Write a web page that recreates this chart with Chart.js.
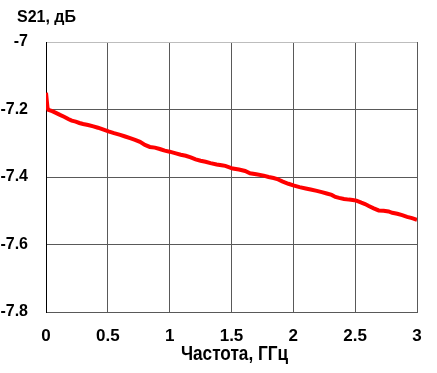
<!DOCTYPE html>
<html>
<head>
<meta charset="utf-8">
<script src="https://cdn.jsdelivr.net/npm/chart.js@4.4.1/dist/chart.umd.min.js"></script>
<style>
    html, body { margin: 0; padding: 0; background: #fff; }
    #wrap { width: 437px; height: 373px; }
</style>
</head>
<body>
<div id="wrap"><canvas id="myChart" width="437" height="373"></canvas></div>
<script>
// frequency, GHz
const freq = [0, 0.005, 0.012, 0.02, 0.05, 0.08, 0.113, 0.15, 0.18, 0.208, 0.24, 0.27, 0.30, 0.34,
    0.383, 0.42, 0.46, 0.505, 0.55, 0.60, 0.64, 0.68, 0.72, 0.76, 0.80, 0.84, 0.88, 0.92, 0.96, 1.00,
    1.05, 1.09, 1.13, 1.17, 1.21, 1.25, 1.29, 1.33, 1.38, 1.42, 1.45, 1.51, 1.56, 1.61, 1.65, 1.70,
    1.76, 1.80, 1.84, 1.87, 1.91, 1.96, 2.00, 2.05, 2.10, 2.14, 2.19, 2.23, 2.27, 2.31, 2.34, 2.37,
    2.41, 2.45, 2.48, 2.51, 2.55, 2.58, 2.61, 2.65, 2.69, 2.73, 2.77, 2.80, 2.84, 2.88, 2.92, 2.96, 3.00];
// S21, dB
const s21 = [-7.150, -7.150, -7.195, -7.201, -7.205, -7.210, -7.216, -7.222, -7.228, -7.233, -7.236, -7.240, -7.243, -7.246,
    -7.250, -7.254, -7.259, -7.265, -7.270, -7.275, -7.280, -7.285, -7.290, -7.296, -7.305, -7.311, -7.313, -7.317, -7.322, -7.325,
    -7.330, -7.334, -7.337, -7.342, -7.348, -7.352, -7.355, -7.359, -7.363, -7.365, -7.367, -7.375, -7.378, -7.382, -7.389, -7.392,
    -7.396, -7.400, -7.403, -7.406, -7.413, -7.420, -7.425, -7.430, -7.434, -7.437, -7.441, -7.445, -7.449, -7.453, -7.459, -7.462,
    -7.465, -7.467, -7.468, -7.470, -7.476, -7.480, -7.486, -7.493, -7.499, -7.500, -7.502, -7.506, -7.509, -7.513, -7.518, -7.522, -7.527];

const xTicks = [0, 0.5, 1, 1.5, 2, 2.5, 3];
const yTicks = [-7, -7.2, -7.4, -7.6, -7.8];

const FONT = "'Liberation Sans', Arial, sans-serif";

// axis titles drawn by hand so the x title can be squeezed like a narrow font
const titlesPlugin = {
    id: 'axisTitles',
    afterDraw(chart) {
        const c = chart.ctx;
        const area = chart.chartArea;
        c.save();
        c.fillStyle = '#000';
        c.textBaseline = 'middle';
        c.font = "bold 16px " + FONT;
        c.textAlign = 'left';
        c.fillText('S21, дБ', 17, 18);

        c.font = "bold 20px " + FONT;
        c.textAlign = 'center';
        c.translate((area.left + area.right) / 2 + 3, 354);
        c.scale(0.86, 1);
        c.fillText('Частота, ГГц', 0, 0);
        c.restore();
    }
};

document.addEventListener("DOMContentLoaded", function () {
    const ctx = document.getElementById('myChart');
    const points = freq.map((f, i) => ({ x: f, y: s21[i] }));

    new Chart(ctx, {
        type: 'line',
        data: {
            datasets: [{
                data: points,
                borderColor: '#ff0000',
                borderWidth: 4,
                pointRadius: 0,
                tension: 0,
                fill: false
            }]
        },
        options: {
            responsive: false,
            animation: false,
            layout: { padding: { top: 42, right: 20, left: 0, bottom: 0 } },
            plugins: { legend: { display: false }, tooltip: { enabled: false } },
            scales: {
                x: {
                    type: 'linear',
                    min: 0,
                    max: 3,
                    afterBuildTicks: (s) => { s.ticks = xTicks.map(v => ({ value: v })); },
                    afterFit: (s) => { s.height = 61; },
                    grid: { color: '#595959', lineWidth: 1, drawTicks: false },
                    border: { color: '#595959' },
                    ticks: {
                        color: '#000',
                        padding: 14,
                        font: { family: FONT, size: 17, weight: 'bold' },
                        maxRotation: 0,
                        callback: (v) => String(v)
                    }
                },
                y: {
                    min: -7.8,
                    max: -7,
                    afterBuildTicks: (s) => { s.ticks = yTicks.map(v => ({ value: v })); },
                    afterFit: (s) => { s.width = 46; },
                    grid: {
                        color: (c) => (c.tick && c.tick.value === -7 ? '#bdbdbd' : '#595959'),
                        lineWidth: 1,
                        drawTicks: false
                    },
                    border: { color: '#000' },
                    ticks: {
                        color: '#000',
                        padding: 18,
                        font: { family: FONT, size: 16, weight: 'bold' },
                        callback: (v) => String(v)
                    }
                }
            }
        },
        plugins: [titlesPlugin]
    });
});
</script>
</body>
</html>
